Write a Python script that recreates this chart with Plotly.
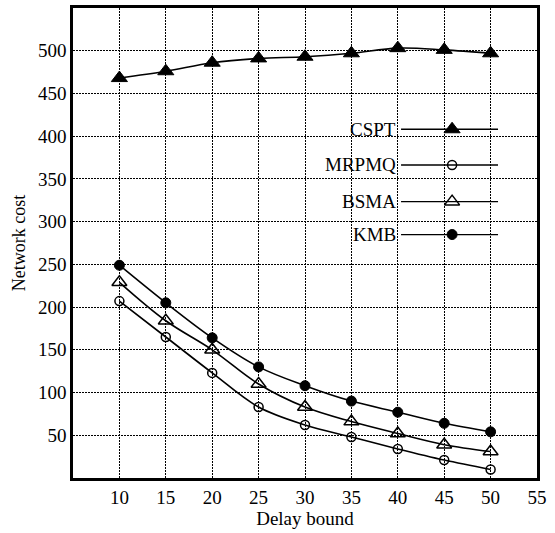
import plotly.graph_objects as go

delay = [10, 15, 20, 25, 30, 35, 40, 45, 50]
cspt = [468, 476, 486, 491, 493, 497, 503, 501, 497]
mrpmq = [207, 165, 123, 83, 62, 48, 34, 21, 10]
bsma = [229, 184, 150, 110, 83, 66, 52, 39, 31]
kmb = [249, 205, 164, 130, 108, 90, 77, 64, 54]
series_names = ["CSPT", "MRPMQ", "BSMA", "KMB"]
x_ticks = [10, 15, 20, 25, 30, 35, 40, 45, 50, 55]
y_ticks = [50, 100, 150, 200, 250, 300, 350, 400, 450, 500]

FONT = "Liberation Serif"
styles = {
    "CSPT": dict(symbol="triangle-up", size=14, color="black", line=dict(color="black", width=1)),
    "MRPMQ": dict(symbol="circle-open", size=9, color="black", line=dict(color="black", width=1.5)),
    "BSMA": dict(symbol="triangle-up-open", size=13, color="black", line=dict(color="black", width=1.5)),
    "KMB": dict(symbol="circle", size=10, color="black", line=dict(color="black", width=1)),
}
values = {"CSPT": cspt, "MRPMQ": mrpmq, "BSMA": bsma, "KMB": kmb}

fig = go.Figure()
for name in series_names:
    fig.add_trace(go.Scatter(
        x=delay, y=values[name], mode="lines+markers", name=name,
        line=dict(color="black", width=1.6, shape="spline"),
        marker=styles[name], showlegend=False, cliponaxis=False))

# custom legend (text left of sample), drawn in an overlay 0..1 axis
leg_text_x = 0.700
leg_line_x0, leg_line_x1 = 0.707, 0.916
leg_marker_x = 0.817
leg_rows = [0.742, 0.666, 0.588, 0.518]
annotations = []
shapes = []
for name, ry in zip(series_names, leg_rows):
    annotations.append(dict(x=leg_text_x, y=ry, xref="paper", yref="paper", text=name,
                            showarrow=False, xanchor="right", yanchor="middle",
                            font=dict(family=FONT, size=19, color="black")))
    shapes.append(dict(type="line", xref="paper", yref="paper", x0=leg_line_x0, x1=leg_line_x1,
                       y0=ry, y1=ry, line=dict(color="black", width=1.3)))
    fig.add_trace(go.Scatter(x=[leg_marker_x], y=[ry], xaxis="x2", yaxis="y2", mode="markers",
                             marker=styles[name], showlegend=False, hoverinfo="skip"))

grid = dict(showgrid=True, gridcolor="black", griddash="2px,1px", gridwidth=1.3,
            showline=True, linecolor="black", linewidth=2.5, mirror=True,
            ticks="", zeroline=False, tickfont=dict(family=FONT, size=19))

fig.update_layout(
    width=555, height=533,
    margin=dict(l=73, r=18, t=5, b=55),
    paper_bgcolor="white", plot_bgcolor="white",
    font=dict(family=FONT, size=19, color="black"),
    annotations=annotations, shapes=shapes,
    xaxis=dict(range=[5, 55], tickvals=x_ticks, **grid,
               title=dict(text="Delay bound", font=dict(family=FONT, size=19), standoff=4)),
    yaxis=dict(range=[0, 550], tickvals=y_ticks, **grid,
               title=dict(text="Network cost", font=dict(family=FONT, size=18), standoff=8)),
    xaxis2=dict(range=[0, 1], overlaying="x", visible=False, fixedrange=True),
    yaxis2=dict(range=[0, 1], overlaying="y", visible=False, fixedrange=True),
)

fig.write_html("out.html", config={"displayModeBar": False},
               post_script="document.body.style.margin='0';document.body.style.overflow='hidden';")
